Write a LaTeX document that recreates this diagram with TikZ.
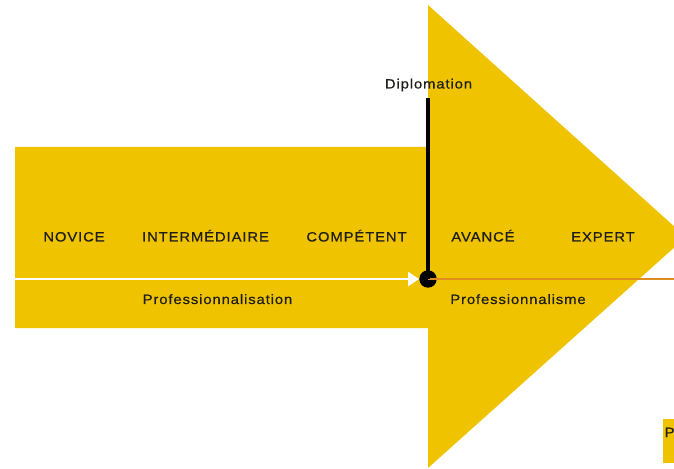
\documentclass[tikz,border=0pt]{standalone}
\usepackage{fontspec}
\setmainfont{Liberation Sans}[LetterSpace=6.5,FakeStretch=1.1,FakeBold=0.6]
\usetikzlibrary{arrows.meta}
\definecolor{ayellow}{RGB}{240,195,0}
\definecolor{aorange}{RGB}{222,140,30}
\definecolor{atext}{RGB}{30,30,25}
\begin{document}
\begin{tikzpicture}[x=1bp,y=-1bp,
  lbl/.style={inner sep=0pt,anchor=base,text=atext,font=\fontsize{13.5bp}{16bp}\selectfont},
  lblw/.style={lbl,anchor=base west}]
\useasboundingbox (0,0) rectangle (674,469);
\clip (0,0) rectangle (674,469);
% big arrow
\fill[ayellow] (15,147) -- (428,147) -- (428,5) -- (686,237) -- (428,468) -- (428,328) -- (15,328) -- cycle;
% small box bottom right
\fill[ayellow] (663,419) rectangle (685,463);
\node[lblw] (p) at (664.5,437) {P};
% timeline
\coordinate (start) at (15,279);
\coordinate (fin) at (674,279);
\coordinate (top) at (428,98);
\node[circle,fill=black,inner sep=0pt,minimum size=17.4bp] (dot) at (428,279) {};
\draw[white,line width=2bp,-{Triangle[length=11bp,width=14bp]}] (start) -- (dot);
\draw[aorange,line width=1.5bp] (dot.center) -- (fin);
\draw[black,line width=4bp] (dot.center) -- (top);
% labels
\node[lbl] (novice) at (74,241.5) {NOVICE};
\node[lbl] (inter) at (205.5,241.5) {INTERMÉDIAIRE};
\node[lbl] (comp) at (356.5,241.5) {COMPÉTENT};
\node[lbl] (avance) at (483,241.5) {AVANCÉ};
\node[lbl] (expert) at (603,241.5) {EXPERT};
\node[lbl] (prof1) at (217.5,304) {Professionnalisation};
\node[lbl] (prof2) at (518,304) {Professionnalisme};
\node[lbl] (diplo) at (428.5,88.5) {Diplomation};
\end{tikzpicture}
\end{document}
